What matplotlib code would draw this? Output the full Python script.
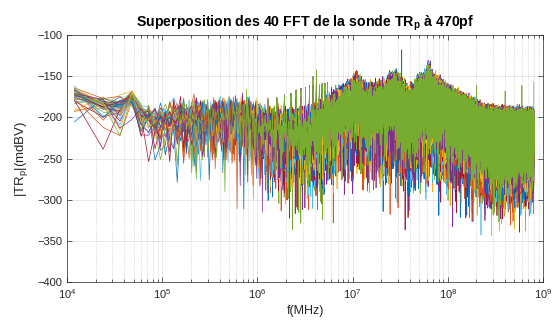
import numpy as np
import matplotlib
matplotlib.use("Agg")
import matplotlib.pyplot as plt

plt.rcParams['font.family'] = ['Liberation Sans', 'DejaVu Sans']
plt.rcParams['mathtext.fontset'] = 'custom'
plt.rcParams['mathtext.rm'] = 'Liberation Sans'
plt.rcParams['mathtext.it'] = 'Liberation Sans:italic'
plt.rcParams['mathtext.bf'] = 'Liberation Sans:bold'
plt.rcParams['agg.path.chunksize'] = 20000
plt.rcParams['path.simplify'] = False

# ---- acquisition settings -------------------------------------------------
n_traces = 40
df = 1.2e4          # frequency resolution (Hz)
f_max = 8.0e8       # last FFT bin

# ---- spectral envelope: log10(f), top level (dB), spread factor -----------
env_logf = [4.08, 4.38, 4.56, 4.68, 4.78, 4.86, 4.92, 4.98, 5.10, 5.50,
            5.90, 6.00, 6.20, 6.40, 6.55, 6.72, 6.85, 6.97, 7.04, 7.10,
            7.15, 7.25, 7.29, 7.34, 7.39, 7.45, 7.55, 7.60, 7.655, 7.69,
            7.74, 7.795, 7.85, 7.92, 7.99, 8.08, 8.23, 8.37, 8.55, 8.90]
env_top = [-160, -171, -171, -163, -179, -180, -184, -181, -173, -173,
           -173, -180, -188, -189, -186, -176, -163, -155, -146, -157,
           -161, -160, -155, -159, -146, -144, -161, -165, -160, -150,
           -151, -136, -151, -155, -163, -169, -178, -187, -191, -193]
env_spread = [1.4, 1.75, 1.9, 1.25, 1.9, 2.0, 2.3, 2.6, 3.0, 3.0,
              3.0, 3.1, 3.2, 3.2, 3.2, 3.1, 3.0, 3.0, 2.85, 2.85,
              2.85, 2.85, 2.9, 2.9, 2.9, 2.9, 2.9, 2.9, 2.9, 2.9,
              2.8, 2.8, 2.7, 2.6, 2.5, 2.4, 2.35, 2.3, 2.25, 2.1]

# ---- harmonics of the 320 kHz clock: order, peak level (dB) ---------------
harm_f0 = 3.2e5
harm_order = [4, 5, 6, 7, 8, 9, 10, 11, 12, 13, 14, 15, 16, 17]
harm_level = [-176, -175, -172, -170, -166, -164, -163, -161, -150, -142,
              -160, -158, -158, -157]

# ---- isolated lines: frequency (Hz), level (dB), trace index --------------
line_freq = [3.28e7, 8.3e7, 2.0e8, 4.0e8, 6.0e8, 8.0e8]
line_level = [-118, -148, -161, -168, -161, -157]
line_trace = [7, 3, 39, 32, 39, 32]

matlab_colors = ['#0072BD', '#D95319', '#EDB120', '#7E2F8E',
                 '#77AC30', '#4DBEEE', '#A2142F']


def first_primes(n):
    out, c = [], 2
    while len(out) < n:
        if all(c % p for p in out if p * p <= c):
            out.append(c)
        c += 1
    return np.array(out, dtype=float)


# ---- build the 40 spectra ---------------------------------------------------
k = np.arange(1, int(round(f_max / df)) + 1, dtype=float)
freq = k * df
logf = np.log10(freq)
top = np.interp(logf, env_logf, env_top)
spread = np.interp(logf, env_logf, env_spread)

primes = first_primes(n_traces)
spectra = []
for i in range(n_traces):
    p = primes[i]
    a_i = np.sqrt(p) % 1.0
    b_i = np.cbrt(p) % 1.0
    c_i = (p * 0.6180339887) % 1.0
    # quasi-uniform sample per bin, mapped through the Rayleigh quantile (dB)
    u = ((a_i * k * k) % 1.0 + (b_i * k) % 1.0 + c_i) % 1.0
    u = np.clip(u, 1e-9, 1 - 1e-9)
    lvl = np.clip(10 * np.log10(-np.log1p(-u)), -60, 12)
    mag = top + spread * (lvl - 8.0)
    w_i = (p * 0.3819660113) % 1.0
    for m, lev in zip(harm_order, harm_level):
        idx = int(round(m * harm_f0 / df)) - 1
        mag[idx] = max(mag[idx], lev - 14 * w_i)
    spectra.append(mag)

for fq, lev, tr in zip(line_freq, line_level, line_trace):
    idx = int(round(fq / df)) - 1
    spectra[tr][idx] = lev

# ---- figure ------------------------------------------------------------------
fig = plt.figure(figsize=(5.53, 3.27), dpi=100)
ax = fig.add_axes([67 / 553, 1 - 282.3 / 327, (543 - 67) / 553, (282.3 - 35) / 327])

for i, mag in enumerate(spectra):
    ax.plot(freq, mag, color=matlab_colors[i % 7], lw=0.5)

ax.set_xscale('log')
ax.set_xlim(1e4, 1e9)
ax.set_ylim(-400, -100)
ax.set_yticks(np.arange(-400, -99, 50))
ax.set_axisbelow(True)

edge = (0.15, 0.15, 0.15)
ax.grid(True, which='major', color=edge, alpha=0.15, lw=0.5)
ax.grid(True, which='minor', axis='x', color=edge, alpha=0.3, lw=0.5, linestyle=':')
ax.tick_params(which='both', direction='in', top=True, right=True,
               colors=edge, labelsize=8, width=0.5)
ax.tick_params(which='major', length=3.5)
ax.tick_params(which='minor', length=2)
for sp in ax.spines.values():
    sp.set_color(edge)
    sp.set_linewidth(0.5)

ax.set_title(r'Superposition des 40 FFT de la sonde TR$_\mathbf{p}$ à 470pf',
             fontsize=10.2, fontweight='bold', pad=6)
ax.set_xlabel('f(MHz)', fontsize=9, color=edge, labelpad=3)
ax.set_ylabel(r'|TR$_\mathrm{p}$|(mdBV)', fontsize=9.5, color=edge, labelpad=5)

fig.savefig('out.png', dpi=100)
